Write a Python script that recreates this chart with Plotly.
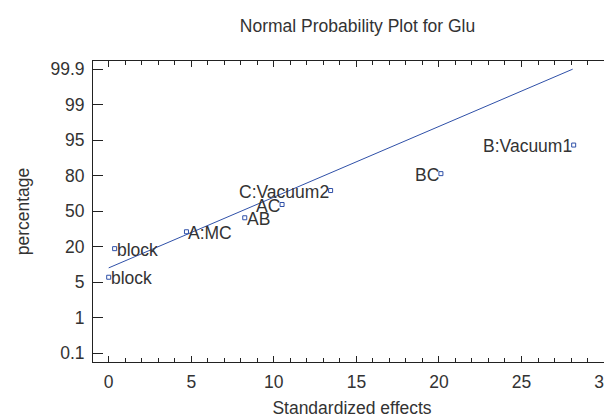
import numpy as np
import plotly.graph_objects as go
from statistics import NormalDist

# ---- data ----
effects = ["block", "block", "A:MC", "AB", "AC", "C:Vacuum2", "BC", "B:Vacuum1"]
std_effects = [0.0, 0.36, 4.71, 8.24, 10.50, 13.44, 20.12, 28.16]
percentages = [6.25, 18.75, 31.25, 43.75, 56.25, 68.75, 81.25, 93.75]
label_side = ["right", "right", "right", "right", "left", "left", "left", "left"]

line_x = [0.0, 28.1]
line_pct = [9.3, 99.9]

y_tick_pcts = [0.1, 1, 5, 20, 50, 80, 95, 99, 99.9]
y_tick_text = ["0.1", "1", "5", "20", "50", "80", "95", "99", "99.9"]

# ---- probability-axis mapping (evenly spaced tick positions) ----
nd = NormalDist()
z_ticks = [nd.inv_cdf(p / 100) for p in y_tick_pcts]
tick_pos = list(range(len(y_tick_pcts)))


def ppos(pcts):
    return np.interp([nd.inv_cdf(p / 100) for p in pcts], z_ticks, tick_pos)


BLUE = "#2f50a8"
TXT = "#333333"
FONT = "Liberation Sans"

# page body has an 8px default margin, so the figure is 8px smaller
W, H = 604, 410

fig = go.Figure()
fig.add_trace(go.Scatter(
    x=line_x, y=ppos(line_pct), mode="lines",
    line=dict(color=BLUE, width=1), hoverinfo="skip", showlegend=False))
fig.add_trace(go.Scatter(
    x=std_effects, y=ppos(percentages), mode="markers",
    marker=dict(symbol="square-open", size=4, color=BLUE, line=dict(width=1, color=BLUE)),
    text=effects, showlegend=False))

ys = ppos(percentages)
for name, xv, yv, side in zip(effects, std_effects, ys, label_side):
    fig.add_annotation(
        x=xv, y=yv, text=name, showarrow=False,
        xanchor="left" if side == "right" else "right", yanchor="middle",
        yshift=-1,
        font=dict(family=FONT, size=17.5, color=TXT))

axis_common = dict(
    showline=True, linecolor="#222222", linewidth=1,
    ticks="inside", tickcolor="#222222", showgrid=False, zeroline=False,
    automargin=False, ticklabeloverflow="allow",
    tickfont=dict(family=FONT, size=17.5, color=TXT),
)

fig.update_xaxes(
    **axis_common, mirror="ticks", range=[-0.95, 30.42], tick0=0, dtick=5, ticklen=6,
    minor=dict(dtick=1, ticklen=4, ticks="inside", tickcolor="#222222", showgrid=False),
    ticklabelstandoff=4,
    title=dict(text="Standardized effects", standoff=12,
               font=dict(family=FONT, size=17.5, color=TXT)))
fig.update_yaxes(
    **axis_common, mirror=False, range=[-0.25, 8.23], tickvals=tick_pos, ticktext=y_tick_text,
    ticklen=10, ticklabelstandoff=4,
    title=dict(text="percentage", standoff=15.5,
               font=dict(family=FONT, size=17.5, color=TXT)))

fig.update_layout(
    width=W, height=H,
    margin=dict(l=85, r=1, t=53, b=56, autoexpand=False),
    paper_bgcolor="white", plot_bgcolor="white",
    title=dict(text="Normal Probability Plot for Glu", x=349.5 / W, xanchor="center",
               xref="container", y=1 - 18 / H, yanchor="middle", yref="container",
               automargin=False,
               font=dict(family=FONT, size=17.5, color=TXT)),
    showlegend=False,
)

fig.write_html("out.html")
